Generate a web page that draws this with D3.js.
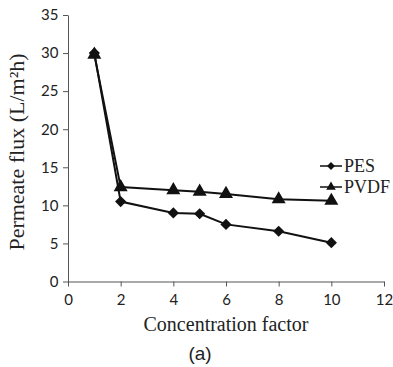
<!DOCTYPE html>
<html>
<head>
<meta charset="utf-8">
<script src="https://cdn.jsdelivr.net/npm/d3@7"></script>
<style>
  body { margin: 0; background: #fff; }
  .tick text { font-family: Lato, "Open Sans", sans-serif; font-size: 15px; fill: #222; }
  .tick line, .domain { stroke: #555; }
</style>
</head>
<body>
<script>
const w = 393;
const h = 367;

// data
const factor = [1, 2, 4, 5, 6, 8, 10];
const pes = [30, 10.5, 9, 8.9, 7.5, 6.6, 5.1];
const pvdf = [29.8, 12.4, 12, 11.8, 11.5, 10.8, 10.6];
const xTicks = [0, 2, 4, 6, 8, 10, 12];
const yTicks = [0, 5, 10, 15, 20, 25, 30, 35];
const seriesNames = ["PES", "PVDF"];

const svg = d3.select("body").append("svg")
  .attr("width", w)
  .attr("height", h);

const x = d3.scaleLinear().domain([0, 12]).range([68, 384]);
const y = d3.scaleLinear().domain([0, 35]).range([281.5, 15]);

svg.append("g").attr("transform", `translate(0, ${y(0)})`)
  .call(d3.axisBottom(x).tickValues(xTicks).tickSize(5).tickSizeOuter(0))
  .call(g => g.selectAll(".tick text").attr("dy", "1.05em"));

svg.append("g").attr("transform", `translate(${x(0)}, 0)`)
  .call(d3.axisLeft(y).tickValues(yTicks).tickSize(5).tickSizeOuter(0))
  .call(g => g.selectAll(".tick text").attr("dx", "-0.1em"));

let line = d3.line().x((d, i) => x(factor[i])).y(d => y(d));

let sym = {
  PES: d3.symbol().type(d3.symbolDiamond2).size(80),
  PVDF: d3.symbol().type(d3.symbolTriangle).size(85)
};

[pes, pvdf].forEach((vals, k) => {
  let name = seriesNames[k];
  svg.append("path")
    .attr("d", line(vals))
    .attr("fill", "none")
    .attr("stroke", "#111")
    .attr("stroke-width", 2);
  svg.selectAll(null)
    .data(vals)
    .enter()
    .append("path")
    .attr("transform", (d, i) => `translate(${x(factor[i])}, ${y(d)})`)
    .attr("d", sym[name]())
    .attr("fill", "#111");
});

// legend
seriesNames.forEach((name, i) => {
  let ly = 166 + i * 21;
  svg.append("line").attr("x1", 320).attr("x2", 342).attr("y1", ly).attr("y2", ly)
    .attr("stroke", "#111").attr("stroke-width", 1.5);
  svg.append("path").attr("transform", `translate(331, ${ly})`)
    .attr("d", d3.symbol().type(i == 0 ? d3.symbolDiamond2 : d3.symbolTriangle).size(40)())
    .attr("fill", "#111");
  svg.append("text").attr("x", 344).attr("y", ly).attr("dy", "0.35em")
    .attr("font-family", "Liberation Serif, serif").attr("font-size", "18px")
    .attr("fill", "#222").text(name);
});

svg.append("text")
  .attr("transform", `translate(24, ${152}) rotate(-90)`)
  .attr("text-anchor", "middle")
  .attr("font-family", "Liberation Serif, serif").attr("font-size", "22px")
  .attr("fill", "#222")
  .text("Permeate flux (L/m²h)");

svg.append("text")
  .attr("x", 226).attr("y", 331)
  .attr("text-anchor", "middle")
  .attr("font-family", "Liberation Serif, serif").attr("font-size", "20px")
  .attr("fill", "#222")
  .text("Concentration factor");

svg.append("text")
  .attr("x", 200).attr("y", 360)
  .attr("text-anchor", "middle")
  .attr("font-family", "Liberation Sans, sans-serif").attr("font-size", "19px")
  .attr("fill", "#222")
  .text("(a)");
</script>
</body>
</html>
